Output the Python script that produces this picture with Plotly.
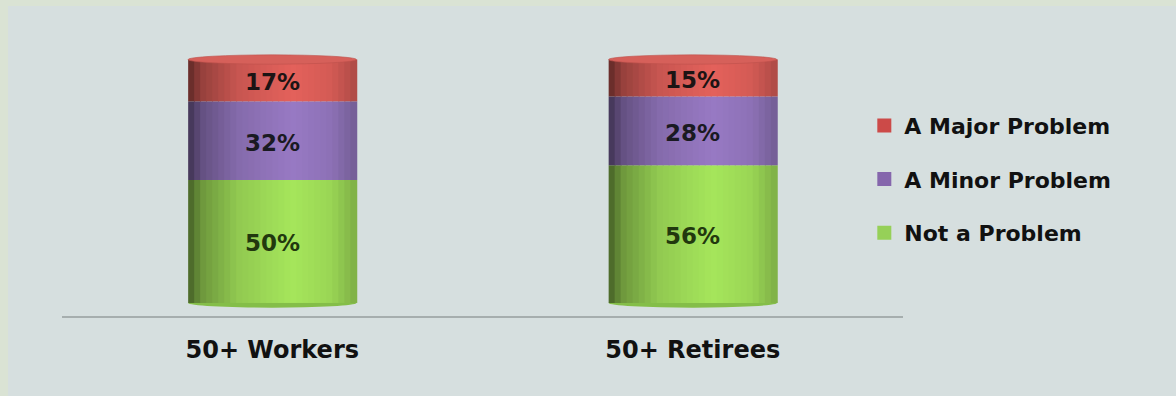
import plotly.graph_objects as go
import numpy as np

categories = ["50+ Workers", "50+ Retirees"]
series_names = ["Not a Problem", "A Minor Problem", "A Major Problem"]
not_a_problem = [50, 56]
minor_problem = [32, 28]
major_problem = [17, 15]
label_text = {"Not a Problem": ["50%", "56%"],
              "A Minor Problem": ["32%", "28%"],
              "A Major Problem": ["17%", "15%"]}

series_values = [not_a_problem, minor_problem, major_problem]
highlight = {"Not a Problem": (166, 230, 92),
             "A Minor Problem": (152, 122, 196),
             "A Major Problem": (228, 98, 92)}
legend_col = {"Not a Problem": "#96d058",
              "A Minor Problem": "#8566ac",
              "A Major Problem": "#cc4a48"}
label_col = {"Not a Problem": "#22380e",
             "A Minor Problem": "#1a1a22",
             "A Major Problem": "#1c1414"}

BAR_W = 0.40
N = 28
prof_t = [0.0, 0.08, 0.3, 0.62, 0.85, 1.0]
prof_f = [0.42, 0.66, 0.88, 1.0, 0.93, 0.76]

def shade(rgb, f):
    return "rgb(%d,%d,%d)" % tuple(min(255, int(c * f)) for c in rgb)

fig = go.Figure()
base = np.zeros(len(categories))
for name, vals in zip(series_names, series_values):
    vals = np.array(vals, dtype=float)
    for j in range(N):
        t = (j + 0.5) / N
        f = float(np.interp(t, prof_t, prof_f))
        fig.add_trace(go.Bar(
            x=categories, y=vals, base=base,
            width=BAR_W / N * 1.15, offset=-BAR_W / 2 + j * BAR_W / N,
            marker=dict(color=shade(highlight[name], f), line=dict(width=0)),
            showlegend=False, hoverinfo="skip"))
    for i, c in enumerate(categories):
        fig.add_annotation(x=c, y=base[i] + vals[i] / 2 - 0.8, text=label_text[name][i],
                           showarrow=False,
                           font=dict(family="DejaVu Sans", size=23, color=label_col[name], weight="bold"))
    base = base + vals

# cylinder caps (top and bottom) derived from data totals
totals = base
for i, c in enumerate(categories):
    fig.add_shape(type="circle", xref="x", yref="y",
                  x0=i - BAR_W / 2, x1=i + BAR_W / 2, y0=totals[i] - 1.9, y1=totals[i] + 1.9,
                  fillcolor="rgb(214,96,90)", line=dict(width=0.6, color="rgb(190,80,76)"), layer="above")
    fig.add_shape(type="circle", xref="x", yref="y",
                  x0=i - BAR_W / 2, x1=i + BAR_W / 2, y0=-1.9, y1=1.9,
                  fillcolor="rgb(132,190,72)", line=dict(width=0), layer="below")

# legend entries
for name in ["A Major Problem", "A Minor Problem", "Not a Problem"]:
    fig.add_trace(go.Scatter(x=[None], y=[None], mode="markers", name=name, legendgroup=name,
                             marker=dict(color=legend_col[name], symbol="square", size=14),
                             hoverinfo="skip"))

# inner panel (paper coords relative to the plot area: l=62, w=841, t=30, h=286)
fig.add_shape(type="rect", xref="paper", yref="paper",
              x0=(8 - 62) / 841, x1=2, y0=-1, y1=1 + (30 - 6) / 286,
              fillcolor="#d6dfdf", line=dict(width=0), layer="below")

fig.update_layout(
    width=1176, height=396,
    margin=dict(l=62, r=273, t=30, b=80),
    barmode="overlay",
    paper_bgcolor="#dae3d4",
    plot_bgcolor="rgba(0,0,0,0)",
    xaxis=dict(type="category", range=[-0.5, 1.5], showline=True, linecolor="#a6aeae", linewidth=2,
               showgrid=False, ticks="", ticklabelstandoff=11,
               tickfont=dict(family="DejaVu Sans", size=24, color="#111111", weight="bold")),
    yaxis=dict(range=[-5.3, 111], visible=False, showgrid=False, zeroline=False),
    legend=dict(x=0.954, y=0.739, xanchor="left", yanchor="top", traceorder="grouped",
                tracegroupgap=22, bgcolor="rgba(0,0,0,0)",
                font=dict(family="DejaVu Sans", size=22, color="#111111", weight="bold"),
                itemwidth=30),
    showlegend=True,
)

fig.write_html("out.html")
